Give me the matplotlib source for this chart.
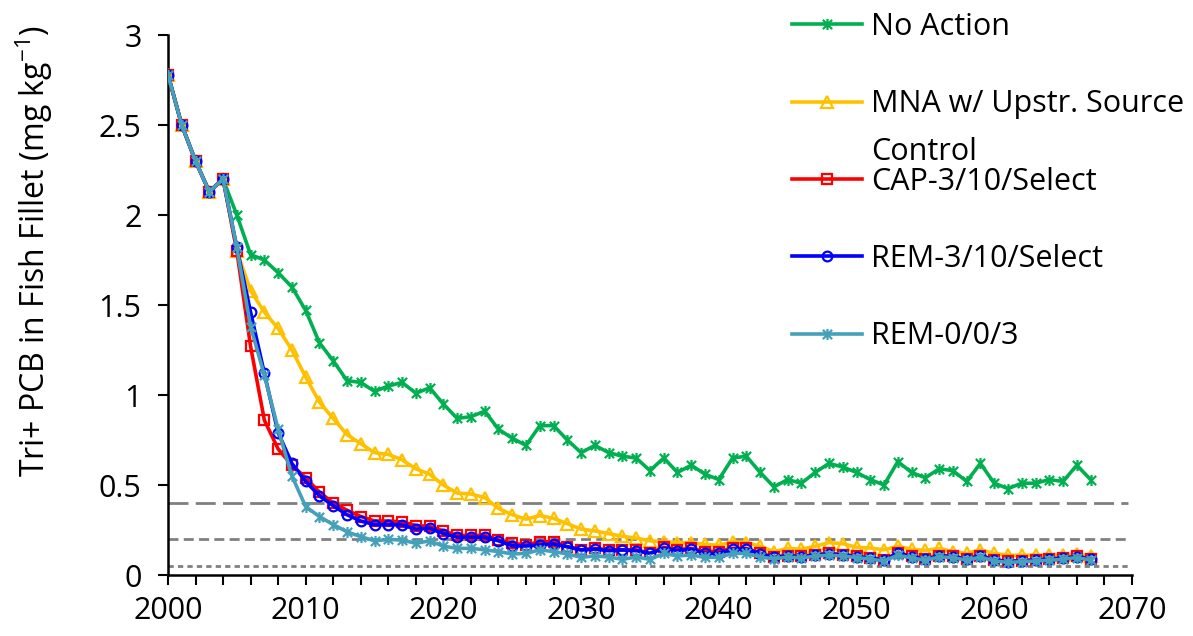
import numpy as np
import matplotlib.pyplot as plt
from matplotlib.path import Path

plt.rcParams['font.family'] = ['Open Sans', 'DejaVu Sans']

years = list(range(2000, 2068))

# Tri+ PCB in fish fillet, mg/kg, one value per year
no_action = [2.78, 2.50, 2.30, 2.13, 2.20, 2.00, 1.78, 1.75, 1.68, 1.60,
             1.47, 1.29, 1.19, 1.08, 1.07, 1.02, 1.05, 1.07, 1.01, 1.04,
             0.95, 0.87, 0.88, 0.91, 0.81, 0.76, 0.72, 0.83, 0.83, 0.75,
             0.68, 0.72, 0.68, 0.66, 0.65, 0.58, 0.65, 0.57, 0.61, 0.56,
             0.53, 0.65, 0.66, 0.57, 0.49, 0.53, 0.51, 0.57, 0.62, 0.60,
             0.57, 0.53, 0.50, 0.63, 0.57, 0.54, 0.59, 0.58, 0.52, 0.62,
             0.51, 0.48, 0.51, 0.51, 0.53, 0.52, 0.61, 0.53]
mna = [2.78, 2.50, 2.30, 2.13, 2.20, 1.80, 1.58, 1.46, 1.37, 1.25,
       1.10, 0.96, 0.87, 0.78, 0.73, 0.68, 0.67, 0.64, 0.59, 0.56,
       0.50, 0.455, 0.45, 0.43, 0.37, 0.335, 0.31, 0.33, 0.315, 0.285,
       0.255, 0.245, 0.23, 0.215, 0.205, 0.19, 0.185, 0.18, 0.18, 0.17,
       0.165, 0.185, 0.18, 0.16, 0.13, 0.148, 0.143, 0.16, 0.18, 0.174,
       0.154, 0.15, 0.14, 0.16, 0.143, 0.137, 0.148, 0.13, 0.12, 0.14,
       0.12, 0.11, 0.11, 0.11, 0.11, 0.11, 0.115, 0.105]
cap = [2.78, 2.50, 2.30, 2.13, 2.20, 1.80, 1.27, 0.86, 0.70, 0.61,
       0.54, 0.46, 0.40, 0.36, 0.325, 0.30, 0.30, 0.295, 0.275, 0.27,
       0.245, 0.22, 0.22, 0.22, 0.195, 0.176, 0.167, 0.185, 0.185, 0.157,
       0.14, 0.148, 0.14, 0.14, 0.14, 0.12, 0.154, 0.14, 0.148, 0.13,
       0.13, 0.148, 0.148, 0.12, 0.10, 0.108, 0.104, 0.113, 0.12, 0.113,
       0.104, 0.095, 0.085, 0.122, 0.104, 0.09, 0.108, 0.104, 0.09, 0.108,
       0.085, 0.076, 0.08, 0.085, 0.09, 0.095, 0.104, 0.09]
rem_select = [2.78, 2.50, 2.30, 2.13, 2.20, 1.82, 1.46, 1.12, 0.79, 0.62,
              0.52, 0.44, 0.385, 0.335, 0.30, 0.28, 0.28, 0.278, 0.255, 0.26,
              0.23, 0.21, 0.21, 0.21, 0.19, 0.162, 0.161, 0.167, 0.172, 0.157,
              0.139, 0.144, 0.135, 0.139, 0.135, 0.12, 0.148, 0.135, 0.144, 0.12,
              0.12, 0.144, 0.144, 0.118, 0.098, 0.106, 0.102, 0.111, 0.117, 0.111,
              0.102, 0.093, 0.083, 0.12, 0.102, 0.087, 0.106, 0.102, 0.087, 0.106,
              0.083, 0.074, 0.078, 0.083, 0.087, 0.093, 0.102, 0.087]
rem_003 = [2.78, 2.50, 2.30, 2.13, 2.20, 1.82, 1.38, 1.11, 0.81, 0.55,
           0.38, 0.325, 0.28, 0.24, 0.213, 0.19, 0.198, 0.194, 0.176, 0.19,
           0.16, 0.148, 0.148, 0.14, 0.13, 0.117, 0.12, 0.14, 0.13, 0.117,
           0.098, 0.106, 0.10, 0.087, 0.10, 0.087, 0.12, 0.106, 0.111, 0.098,
           0.098, 0.12, 0.12, 0.10, 0.09, 0.10, 0.095, 0.105, 0.11, 0.105,
           0.097, 0.088, 0.078, 0.11, 0.095, 0.082, 0.10, 0.097, 0.082, 0.10,
           0.078, 0.07, 0.074, 0.078, 0.082, 0.088, 0.097, 0.083]

labels = ['No Action', 'MNA w/ Upstr. Source', 'CAP-3/10/Select',
          'REM-3/10/Select', 'REM-0/0/3']

# reference levels (dashed lines)
ref_levels = [0.4, 0.2, 0.05]

# excel-like star marker: an X with a vertical bar
star = Path([(-1, -1), (1, 1), (-1, 1), (1, -1), (0, -1.2), (0, 1.2)],
            [Path.MOVETO, Path.LINETO, Path.MOVETO, Path.LINETO,
             Path.MOVETO, Path.LINETO])

fs = 22
fig = plt.figure(figsize=(11.93, 6.36), dpi=100)
ax = fig.add_axes([0.1408, 0.0959, 0.808, 0.849])

dash_styles = [(0, (7.2, 2.6)), (0, (3.6, 1.9)), (0, (1.9, 1.5))]
for lvl, ls in zip(ref_levels, dash_styles):
    ax.hlines(lvl, 2000, 2069.7, colors='#808080', linewidth=2, linestyles=ls, zorder=1)

lw = 2.6
ax.plot(years, no_action, color='#00B050', lw=lw, marker=star, ms=8,
        mew=1.6, label=labels[0], zorder=3)
ax.plot(years, mna, color='#FFC000', lw=lw, marker='^', ms=8, mfc='none',
        mew=1.6, label=labels[1], zorder=4)
ax.plot(years, cap, color='#FF0000', lw=lw, marker='s', ms=7, mfc='none',
        mew=1.6, label=labels[2], zorder=5)
ax.plot(years, rem_select, color='#0000FF', lw=lw, marker='o', ms=7, mfc='none',
        mew=1.6, label=labels[3], zorder=6)
ax.plot(years, rem_003, color='#45A0BA', lw=lw, marker=star, ms=8,
        mew=1.6, label=labels[4], zorder=7)

ax.set_xlim(2000, 2070)
ax.set_ylim(0, 3)
ax.set_xticks(range(2000, 2071, 10))
ax.set_xticks(range(2000, 2071, 2), minor=True)
ax.set_yticks([0, 0.5, 1, 1.5, 2, 2.5, 3])
ax.set_yticklabels(['0', '0.5', '1', '1.5', '2', '2.5', '3'])
ax.tick_params(axis='both', which='both', direction='out', length=7, width=1.5,
               labelsize=fs, colors='black')
ax.tick_params(axis='y', pad=12)
ax.tick_params(axis='x', pad=8)

for s in ['top', 'right']:
    ax.spines[s].set_visible(False)
for s in ['left', 'bottom']:
    ax.spines[s].set_linewidth(1.8)

ax.set_ylabel('Tri+ PCB in Fish Fillet (mg kg$^{\\mathregular{-1}}$)', fontsize=23)
ax.yaxis.set_label_coords(-0.117, 0.6)

leg = fig.legend(loc='upper left', bbox_to_anchor=(792 / 1193, 1 - 12 / 636),
                 frameon=False, fontsize=fs, handlelength=2.3, handletextpad=0.29,
                 labelspacing=1.55, borderpad=0, borderaxespad=0)

# second line of the MNA legend entry
fig.canvas.draw()
bb = leg.get_texts()[1].get_window_extent()
fig.text(bb.x0 / fig.bbox.width, (bb.y0 - 18) / fig.bbox.height, 'Control',
         fontsize=fs, va='top', ha='left')

fig.savefig('out.png', dpi=100)
